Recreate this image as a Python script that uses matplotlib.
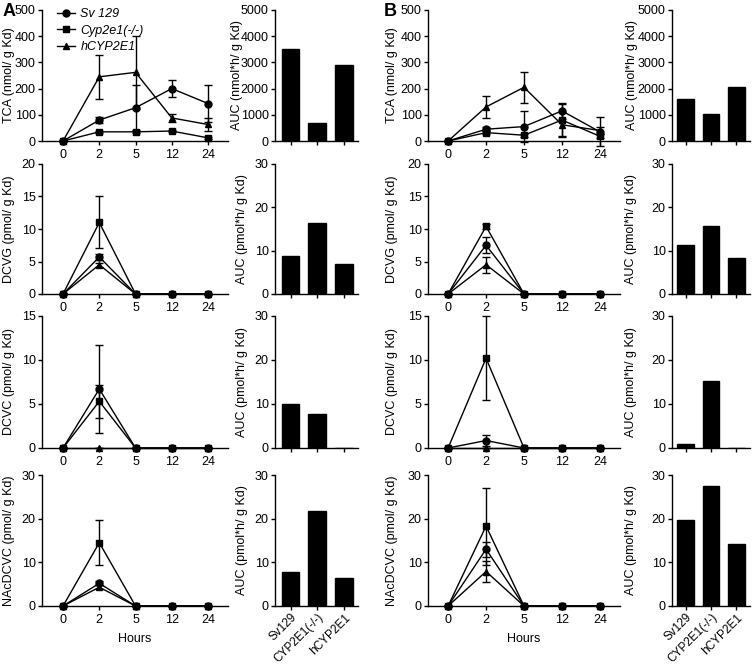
import numpy as np
import matplotlib.pyplot as plt

plt.rcParams["font.family"] = ["Liberation Sans", "DejaVu Sans"]
plt.rcParams["font.size"] = 8.5
plt.rcParams["axes.linewidth"] = 1.0
plt.rcParams["xtick.major.width"] = 1.0
plt.rcParams["ytick.major.width"] = 1.0
plt.rcParams["xtick.major.size"] = 3.0
plt.rcParams["ytick.major.size"] = 3.0

hours = ["0", "2", "5", "12", "24"]
strains = ["Sv129", "CYP2E1(-/-)", "hCYP2E1"]
legend_names = ["Sv 129", "Cyp2e1(-/-)", "hCYP2E1"]
markers = ["o", "s", "^"]

# panel A: mean and error per strain (Sv129, Cyp2e1-/-, hCYP2E1)
a_tca = [[0, 80, 127, 200, 143], [0, 35, 35, 38, 12], [0, 245, 262, 88, 63]]
a_tca_err = [[0, 12, 85, 33, 70], [0, 5, 4, 5, 5], [0, 85, 140, 15, 25]]
a_dcvg = [[0, 5.7, 0, 0, 0], [0, 11.0, 0, 0, 0], [0, 4.5, 0, 0, 0]]
a_dcvg_err = [[0, 0.4, 0, 0, 0], [0, 4.0, 0, 0, 0], [0, 0.3, 0, 0, 0]]
a_dcvc = [[0, 6.7, 0, 0, 0], [0, 5.3, 0, 0, 0], [0, 0, 0, 0, 0]]
a_dcvc_err = [[0, 5.0, 0, 0, 0], [0, 1.9, 0, 0, 0], [0, 0, 0, 0, 0]]
a_nac = [[0, 5.2, 0, 0, 0], [0, 14.5, 0, 0, 0], [0, 4.3, 0, 0, 0]]
a_nac_err = [[0, 0.5, 0, 0, 0], [0, 5.1, 0, 0, 0], [0, 0.4, 0, 0, 0]]

# panel B
b_tca = [[0, 45, 55, 115, 35], [0, 32, 22, 80, 18], [0, 130, 205, 62, 40]]
b_tca_err = [[0, 8, 60, 30, 55], [0, 5, 5, 60, 8], [0, 42, 60, 48, 15]]
b_dcvg = [[0, 7.5, 0, 0, 0], [0, 10.4, 0, 0, 0], [0, 4.5, 0, 0, 0]]
b_dcvg_err = [[0, 1.2, 0, 0, 0], [0, 0.4, 0, 0, 0], [0, 1.2, 0, 0, 0]]
b_dcvc = [[0, 0.85, 0, 0, 0], [0, 10.2, 0, 0, 0], [0, 0, 0, 0, 0]]
b_dcvc_err = [[0, 0.6, 0, 0, 0], [0, 4.8, 0, 0, 0], [0, 0, 0, 0, 0]]
b_nac = [[0, 13.0, 0, 0, 0], [0, 18.3, 0, 0, 0], [0, 7.9, 0, 0, 0]]
b_nac_err = [[0, 1.7, 0, 0, 0], [0, 8.8, 0, 0, 0], [0, 2.3, 0, 0, 0]]

# AUC bars (Sv129, CYP2E1(-/-), hCYP2E1)
a_auc_tca = [3500, 680, 2900]
a_auc_dcvg = [8.7, 16.3, 6.9]
a_auc_dcvc = [10.1, 7.8, 0]
a_auc_nac = [7.9, 21.7, 6.3]
b_auc_tca = [1610, 1020, 2080]
b_auc_dcvg = [11.4, 15.6, 8.2]
b_auc_dcvc = [1.0, 15.3, 0]
b_auc_nac = [19.8, 27.5, 14.2]

W, H = 755, 668
fig = plt.figure(figsize=(W / 100, H / 100), dpi=100)


def add_ax(x0, x1, ytop, ybot):
    ax = fig.add_axes([x0 / W, 1 - ybot / H, (x1 - x0) / W, (ybot - ytop) / H])
    ax.spines["top"].set_visible(False)
    ax.spines["right"].set_visible(False)
    ax.tick_params(direction="out", labelsize=9, pad=1.5)
    ax.tick_params(axis="x", pad=2.5)
    return ax


rows = [(10, 141), (164, 294), (316, 448), (475, 606)]

row_info = [
    ("TCA (nmol/ g Kd)", "AUC (nmol*h/ g Kd)", 500, 100, 5000, 1000),
    ("DCVG (pmol/ g Kd)", "AUC (pmol*h/ g Kd)", 20, 5, 30, 10),
    ("DCVC (pmol/ g Kd)", "AUC (pmol*h/ g Kd)", 15, 5, 30, 10),
    ("NAcDCVC (pmol/ g Kd)", "AUC (pmol*h/ g Kd)", 30, 10, 30, 10),
]

panels = [
    dict(line_x=(42, 228), bar_x=(275, 358), xl=(-0.58, 4.55), bxl=(-0.58, 2.52),
         means=[a_tca, a_dcvg, a_dcvc, a_nac],
         errs=[a_tca_err, a_dcvg_err, a_dcvc_err, a_nac_err],
         aucs=[a_auc_tca, a_auc_dcvg, a_auc_dcvc, a_auc_nac], letter="A", lx=3,
         lab_line=-0.145, lab_bar=[-0.385, -0.33, -0.33, -0.33]),
    dict(line_x=(428, 620), bar_x=(672, 750), xl=(-0.53, 4.53), bxl=(-0.53, 2.53),
         means=[b_tca, b_dcvg, b_dcvc, b_nac],
         errs=[b_tca_err, b_dcvg_err, b_dcvc_err, b_nac_err],
         aucs=[b_auc_tca, b_auc_dcvg, b_auc_dcvc, b_auc_nac], letter="B", lx=384,
         lab_line=-0.156, lab_bar=[-0.436, -0.45, -0.45, -0.45]),
]

xpos = np.arange(len(hours))
bpos = np.arange(len(strains))
draw_order = [0, 2, 1]

for p in panels:
    for r, (ytop, ybot) in enumerate(rows):
        ylab, blab, ymax, ystep, bmax, bstep = row_info[r]

        ax = add_ax(p["line_x"][0], p["line_x"][1], ytop, ybot)
        handles = {}
        for k, i in enumerate(draw_order):
            ax.errorbar(xpos, p["means"][r][i], yerr=p["errs"][r][i], fmt="none",
                        ecolor="black", elinewidth=1.0, capsize=3, capthick=1.0,
                        clip_on=False, zorder=2 + k)
            h, = ax.plot(xpos, p["means"][r][i], color="black", lw=1.0,
                         marker=markers[i], markersize=5, clip_on=False, zorder=3 + k)
            handles[i] = h
        ax.set_xlim(*p["xl"])
        ax.set_ylim(0, ymax)
        ax.set_yticks(np.arange(0, ymax + ystep / 2, ystep))
        ax.set_xticks(xpos)
        ax.set_xticklabels(hours)
        ax.set_ylabel(ylab, fontsize=9)
        ax.yaxis.set_label_coords(p["lab_line"], 0.5)
        if r == 3:
            ax.set_xlabel("Hours", fontsize=9, labelpad=5)
        if r == 0 and p["letter"] == "A":
            leg = ax.legend([handles[0], handles[1], handles[2]], legend_names,
                            loc="upper left", bbox_to_anchor=(0.045, 1.06),
                            frameon=False, handlelength=1.5, handletextpad=0.4,
                            labelspacing=0.35, borderpad=0, fontsize=9)
            for t in leg.get_texts():
                t.set_style("italic")

        bx = add_ax(p["bar_x"][0], p["bar_x"][1], ytop, ybot)
        bx.bar(bpos, p["aucs"][r], width=0.66, color="black", edgecolor="black")
        bx.set_xlim(*p["bxl"])
        bx.set_ylim(0, bmax)
        bx.set_yticks(np.arange(0, bmax + bstep / 2, bstep))
        bx.set_xticks(bpos)
        if r == 3:
            bx.set_xticklabels(strains, rotation=45, ha="right", rotation_mode="anchor",
                               fontsize=8.5)
            bx.tick_params(axis="x", pad=1)
        else:
            bx.set_xticklabels([])
        bx.set_ylabel(blab, fontsize=9)
        bx.yaxis.set_label_coords(p["lab_bar"][r], 0.5)

    fig.text(p["lx"] / W, 1 - 12 / H, p["letter"], fontsize=13, fontweight="bold",
             va="center", ha="left")

fig.savefig("out.png", dpi=100)
